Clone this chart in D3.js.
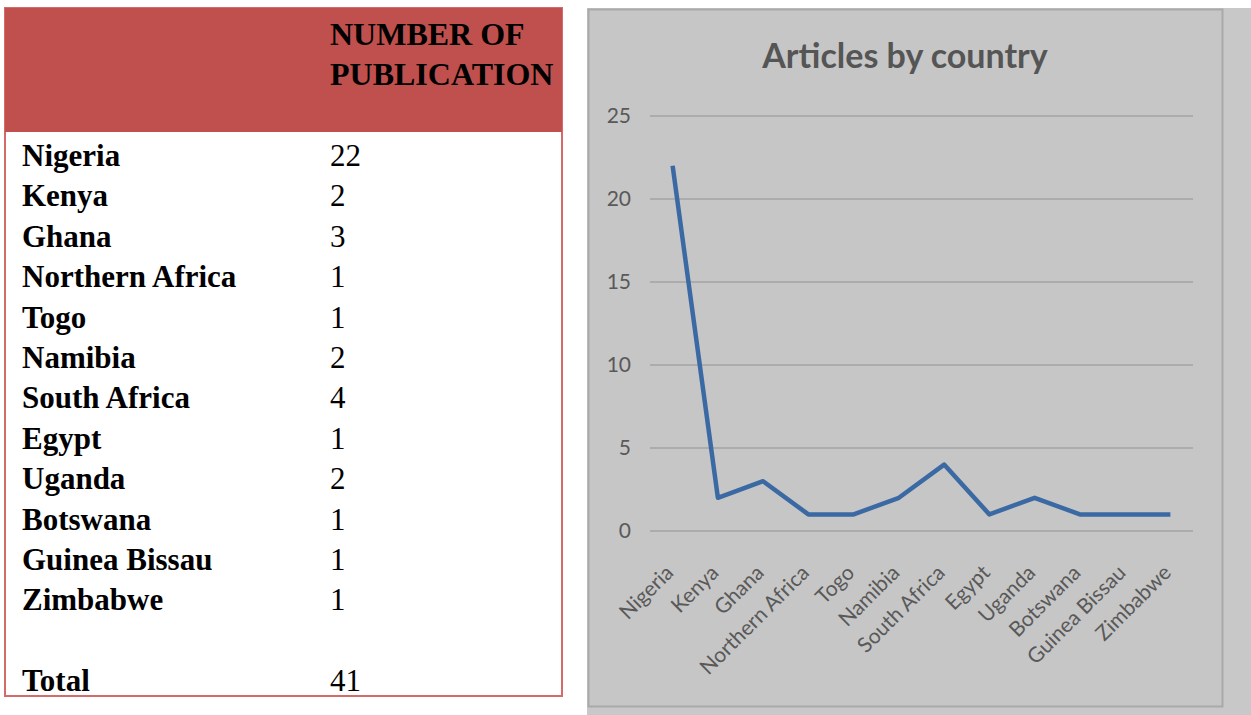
<!DOCTYPE html>
<html>
<head>
<meta charset="utf-8">
<script src="https://cdn.jsdelivr.net/npm/d3@7"></script>
<style>
  html, body { margin: 0; padding: 0; background: #ffffff; }
  svg { display: block; }
</style>
</head>
<body>
<svg id="chart" width="1251" height="715"></svg>
<script>
const countries = ["Nigeria", "Kenya", "Ghana", "Northern Africa", "Togo", "Namibia",
  "South Africa", "Egypt", "Uganda", "Botswana", "Guinea Bissau", "Zimbabwe"];
const publications = [22, 2, 3, 1, 1, 2, 4, 1, 2, 1, 1, 1];
const headerLines = ["NUMBER OF", "PUBLICATION"];
const totalLabel = "Total";
const totalValue = 41;
const chartTitle = "Articles by country";
const yTicks = [0, 5, 10, 15, 20, 25];

const svg = d3.select("#chart");
const serif = "Liberation Serif, Times New Roman, serif";
const sans = "Lato, Open Sans, sans-serif";

// ---------- Table ----------
const table = svg.append("g");
table.append("rect").attr("x", 5).attr("y", 8).attr("width", 557).attr("height", 688)
  .attr("fill", "#ffffff").attr("stroke", "#d46a6a").attr("stroke-width", 2);
table.append("rect").attr("x", 5).attr("y", 8).attr("width", 557).attr("height", 124)
  .attr("fill", "#c0504d");

table.selectAll("text.hdr").data(headerLines).join("text")
  .attr("class", "hdr")
  .attr("x", 330).attr("y", (d, i) => 45 + i * 40)
  .attr("font-family", serif)
  .attr("font-weight", "bold").attr("font-size", 32)
  .attr("fill", "#000").text(d => d);

const rowY = d3.scaleLinear().domain([0, 1]).range([166, 206.4]);
const rows = table.selectAll("g.row").data(countries).join("g").attr("class", "row");
rows.append("text")
  .attr("x", 22).attr("y", (d, i) => rowY(i))
  .attr("font-family", serif)
  .attr("font-weight", "bold").attr("font-size", 31)
  .attr("fill", "#000").text(d => d);
rows.append("text")
  .attr("x", 330).attr("y", (d, i) => rowY(i))
  .attr("font-family", serif)
  .attr("font-size", 31).attr("fill", "#000")
  .text((d, i) => publications[i]);

table.append("text").attr("x", 22).attr("y", rowY(countries.length + 1))
  .attr("font-family", serif)
  .attr("font-weight", "bold").attr("font-size", 31)
  .attr("fill", "#000").text(totalLabel);
table.append("text").attr("x", 330).attr("y", rowY(countries.length + 1))
  .attr("font-family", serif)
  .attr("font-size", 31).attr("fill", "#000").text(totalValue);

// ---------- Chart ----------
const panel = svg.append("g");
panel.append("rect").attr("x", 587).attr("y", 8).attr("width", 664).attr("height", 707)
  .attr("fill", "#c8c8c8");
panel.append("rect").attr("x", 588.5).attr("y", 9.5).attr("width", 634).attr("height", 697)
  .attr("fill", "#c6c6c6").attr("stroke", "#a9a9a9").attr("stroke-width", 2);

panel.append("text").attr("x", 905).attr("y", 68).attr("text-anchor", "middle")
  .attr("font-family", sans).attr("font-weight", "bold")
  .attr("font-size", 34).attr("fill", "#555555").text(chartTitle);

const x = d3.scaleBand().domain(countries).range([650, 1193]);
const y = d3.scaleLinear().domain([0, 25]).range([531, 116]);

// gridlines
panel.append("g").selectAll("line").data(yTicks).join("line")
  .attr("x1", 650).attr("x2", 1193)
  .attr("y1", d => y(d)).attr("y2", d => y(d))
  .attr("stroke", "#a3a3a3").attr("stroke-width", 1.5);

// y axis labels
const yAxis = d3.axisLeft(y).tickValues(yTicks).tickSize(0).tickPadding(0);
const yG = panel.append("g").attr("transform", "translate(631,0)").call(yAxis);
yG.select(".domain").remove();
yG.selectAll("text").attr("font-family", sans)
  .attr("font-size", 21).attr("fill", "#595959");

// x axis labels
const xAxis = d3.axisBottom(x).tickSize(0).tickPadding(0);
const xG = panel.append("g").attr("transform", "translate(0,531)").call(xAxis);
xG.select(".domain").remove();
xG.selectAll("text")
  .attr("font-family", sans)
  .attr("font-size", 21).attr("fill", "#595959")
  .attr("text-anchor", "end")
  .attr("y", 0).attr("dy", 0)
  .attr("transform", "translate(2,43) rotate(-45)");

// line
const line = d3.line()
  .x((d, i) => x(countries[i]) + x.bandwidth() / 2)
  .y(d => y(d));
panel.append("path").datum(publications)
  .attr("d", line)
  .attr("fill", "none").attr("stroke", "#3b69a3").attr("stroke-width", 4.5)
  .attr("stroke-linejoin", "round").attr("stroke-linecap", "butt");
</script>
</body>
</html>
